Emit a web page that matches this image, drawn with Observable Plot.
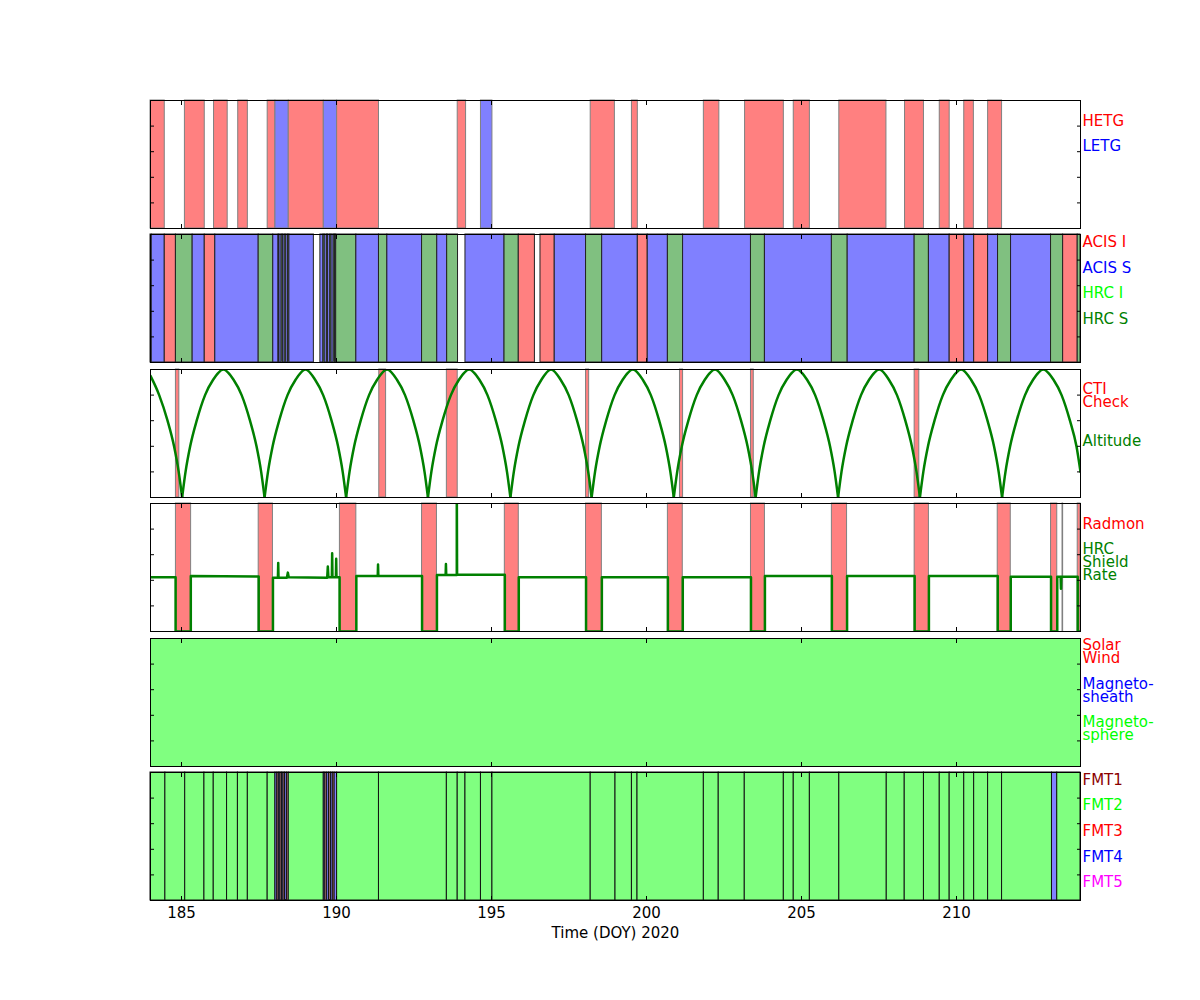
<!DOCTYPE html>
<html><head><meta charset="utf-8">
<script src="https://cdn.jsdelivr.net/npm/d3@7"></script>
<script src="https://cdn.jsdelivr.net/npm/@observablehq/plot@0.6"></script>
<style>
body{margin:0;background:#fff;}
#chart{position:relative;width:1200px;height:1000px;background:#fff;}
#chart svg{position:absolute;left:0;}
</style></head><body><div id="chart"></div>
<script>
// ---------- data (DOY 2020) ----------
const xTicks = [185, 190, 195, 200, 205, 210];
const yTicks = [1, 2, 3, 4];

// Panel 1: gratings [start, end, type]
const gratingSpans = [
  [184.00,184.46,"HETG"],[185.11,185.75,"HETG"],[186.05,186.49,"HETG"],[186.83,187.14,"HETG"],
  [187.78,188.03,"HETG"],[188.03,188.46,"LETG"],[188.46,189.59,"HETG"],[189.59,190.02,"LETG"],
  [190.02,191.37,"HETG"],[193.91,194.18,"HETG"],[194.66,195.03,"LETG"],[198.20,198.98,"HETG"],
  [199.53,199.72,"HETG"],[201.85,202.35,"HETG"],[203.18,204.43,"HETG"],[204.75,205.27,"HETG"],
  [206.22,207.74,"HETG"],[208.34,208.95,"HETG"],[209.46,209.78,"HETG"],[210.25,210.56,"HETG"],
  [211.02,211.47,"HETG"]
];
const gratingLabels = [["HETG",4.18,"red"],["LETG",3.2,"blue"]];

// Panel 2: instruments [start, end, type]
const instrumentSpans = [
  [184.00,184.04,"HRC S"],[184.04,184.46,"ACIS S"],[184.46,184.82,"ACIS I"],[184.82,185.36,"HRC S"],
  [185.36,185.75,"ACIS S"],[185.75,186.09,"ACIS I"],[186.09,187.49,"ACIS S"],[187.49,187.96,"HRC S"],
  [187.96,188.13,"ACIS S"],[188.13,188.16,"HRC S"],[188.16,188.23,"ACIS S"],[188.23,188.27,"HRC S"],
  [188.27,188.33,"ACIS S"],[188.33,188.38,"HRC S"],[188.38,188.44,"ACIS S"],[188.44,188.48,"HRC S"],
  [188.48,189.27,"ACIS S"],[189.48,189.58,"ACIS S"],[189.58,189.62,"HRC S"],[189.62,189.69,"ACIS S"],
  [189.69,189.73,"HRC S"],[189.73,189.80,"ACIS S"],[189.80,189.84,"HRC S"],[189.84,189.91,"ACIS S"],
  [189.91,189.95,"HRC S"],[189.95,189.99,"ACIS S"],[189.99,190.64,"HRC S"],[190.64,191.37,"ACIS S"],
  [191.37,191.64,"HRC S"],[191.64,192.76,"ACIS S"],[192.76,193.25,"HRC S"],[193.25,193.57,"ACIS S"],
  [193.57,193.92,"HRC S"],[194.16,195.42,"ACIS S"],[195.42,195.88,"HRC S"],[195.88,196.40,"ACIS I"],
  [196.58,197.04,"ACIS I"],[197.04,198.05,"ACIS S"],[198.05,198.57,"HRC S"],[198.57,199.72,"ACIS S"],
  [199.72,200.04,"ACIS I"],[200.04,200.69,"ACIS S"],[200.69,201.18,"HRC S"],[201.18,203.37,"ACIS S"],
  [203.37,203.82,"HRC S"],[203.82,205.98,"ACIS S"],[205.98,206.49,"HRC S"],[206.49,208.65,"ACIS S"],
  [208.65,209.11,"HRC S"],[209.11,209.78,"ACIS S"],[209.78,210.25,"ACIS I"],[210.25,210.57,"ACIS S"],
  [210.57,211.02,"ACIS I"],[211.02,211.34,"ACIS S"],[211.34,211.76,"HRC S"],[211.76,213.05,"ACIS S"],
  [213.05,213.44,"HRC S"],[213.44,213.91,"ACIS I"],[213.91,214.00,"HRC S"]
];
const instrumentLabels = [["ACIS I",4.69,"red"],["ACIS S",3.67,"blue"],["HRC I",2.70,"lime"],["HRC S",1.68,"green"]];

// Panel 3: CTI checks [start, end] and altitude arcs [doy, value, arc]
const ctiSpans = [
  [184.82,184.93],[191.38,191.60],[193.56,193.91],[198.05,198.15],[201.08,201.18],[203.37,203.46],[208.65,208.80]
];
const altitudePoints = [
  [184.00,4.75,0],[184.28,4,0],[184.55,3,0],[184.76,2,0],[184.91,1,0],[185.02,0,0],
  [185.02,0,1],[185.13,1,1],[185.28,2,1],[185.49,3,1],[185.76,4,1],[186.02,4.6,1],[186.35,5,1],[186.68,4.6,1],[186.94,4,1],[187.21,3,1],[187.42,2,1],[187.57,1,1],[187.68,0,1],
  [187.68,0,2],[187.79,1,2],[187.94,2,2],[188.15,3,2],[188.42,4,2],[188.68,4.6,2],[189.00,5,2],[189.31,4.6,2],[189.57,4,2],[189.84,3,2],[190.05,2,2],[190.20,1,2],[190.31,0,2],
  [190.31,0,3],[190.42,1,3],[190.57,2,3],[190.78,3,3],[191.05,4,3],[191.31,4.6,3],[191.63,5,3],[191.95,4.6,3],[192.21,4,3],[192.48,3,3],[192.69,2,3],[192.84,1,3],[192.95,0,3],
  [192.95,0,4],[193.06,1,4],[193.21,2,4],[193.42,3,4],[193.69,4,4],[193.95,4.6,4],[194.28,5,4],[194.61,4.6,4],[194.87,4,4],[195.14,3,4],[195.35,2,4],[195.50,1,4],[195.61,0,4],
  [195.61,0,5],[195.72,1,5],[195.87,2,5],[196.08,3,5],[196.35,4,5],[196.61,4.6,5],[196.92,5,5],[197.23,4.6,5],[197.49,4,5],[197.76,3,5],[197.97,2,5],[198.12,1,5],[198.23,0,5],
  [198.23,0,6],[198.34,1,6],[198.49,2,6],[198.70,3,6],[198.97,4,6],[199.23,4.6,6],[199.56,5,6],[199.88,4.6,6],[200.14,4,6],[200.41,3,6],[200.62,2,6],[200.77,1,6],[200.88,0,6],
  [200.88,0,7],[200.99,1,7],[201.14,2,7],[201.35,3,7],[201.62,4,7],[201.88,4.6,7],[202.21,5,7],[202.52,4.6,7],[202.78,4,7],[203.05,3,7],[203.26,2,7],[203.41,1,7],[203.52,0,7],
  [203.52,0,8],[203.63,1,8],[203.78,2,8],[203.99,3,8],[204.26,4,8],[204.52,4.6,8],[204.85,5,8],[205.18,4.6,8],[205.44,4,8],[205.71,3,8],[205.92,2,8],[206.07,1,8],[206.18,0,8],
  [206.18,0,9],[206.29,1,9],[206.44,2,9],[206.65,3,9],[206.92,4,9],[207.18,4.6,9],[207.51,5,9],[207.82,4.6,9],[208.08,4,9],[208.35,3,9],[208.56,2,9],[208.71,1,9],[208.82,0,9],
  [208.82,0,10],[208.93,1,10],[209.08,2,10],[209.29,3,10],[209.56,4,10],[209.82,4.6,10],[210.15,5,10],[210.47,4.6,10],[210.73,4,10],[211.00,3,10],[211.21,2,10],[211.36,1,10],[211.47,0,10],
  [211.47,0,11],[211.58,1,11],[211.73,2,11],[211.94,3,11],[212.21,4,11],[212.47,4.6,11],[212.80,5,11],[213.13,4.6,11],[213.39,4,11],[213.66,3,11],[213.87,2,11],[214.00,1,11]
];
const altitudeLabels = [["CTI\nCheck",3.96,"red"],["Altitude",2.19,"green"]];

// Panel 4: radmon disabled [start, end] and HRC shield rate [doy, value]
const radmonSpans = [
  [184.82,185.31],[187.49,187.95],[190.11,190.64],[192.76,193.24],[195.43,195.88],[198.05,198.56],
  [200.69,201.17],[203.37,203.82],[205.98,206.47],[208.65,209.11],[211.33,211.75],[213.05,213.25],
  [213.42,213.44],[213.91,214.00]
];
const shieldPoints = [
  [184.00,2.12],[184.81,2.12],[184.81,0],[185.30,0],[185.30,2.17],[187.49,2.15],[187.49,0],[187.95,0],
  [187.95,2.10],[188.11,2.10],[188.12,2.68],[188.13,2.10],[188.40,2.10],[188.43,2.30],[188.46,2.12],
  [189.70,2.10],[189.72,2.54],[189.74,2.12],[189.85,2.12],[189.86,3.06],[189.87,2.12],[189.98,2.12],
  [189.99,2.84],[190.00,2.12],[190.10,2.12],[190.10,0],[190.64,0],[190.64,2.17],[191.33,2.17],
  [191.34,2.62],[191.35,2.17],[192.76,2.17],[192.76,0],[193.24,0],[193.24,2.21],[193.52,2.21],
  [193.53,2.64],[193.54,2.21],[193.88,2.21],[193.88,6],[193.89,2.22],[195.43,2.22],[195.43,0],
  [195.88,0],[195.88,2.12],[198.05,2.12],[198.05,0],[198.56,0],[198.56,2.12],[200.69,2.12],
  [200.69,0],[201.17,0],[201.17,2.12],[203.37,2.12],[203.37,0],[203.82,0],[203.82,2.17],
  [205.98,2.17],[205.98,0],[206.47,0],[206.47,2.17],[208.65,2.17],[208.65,0],[209.11,0],
  [209.11,2.17],[211.33,2.17],[211.33,0],[211.75,0],[211.75,2.14],[213.05,2.14],[213.05,0],
  [213.25,0],[213.25,2.14],[213.36,2.14],[213.37,1.67],[213.38,2.14],[213.91,2.14],[213.91,0],[214.00,0]
];
const radmonLabels = [["Radmon",4.18,"red"],["HRC\nShield\nRate",2.70,"green"]];

// Panel 5: plasma region [start, end, type]
const regionSpans = [[184.00,214.00,"Magnetosphere"]];
const regionLabels = [["Solar\nWind",4.47,"red"],["Magneto-\nsheath",2.95,"blue"],["Magneto-\nsphere",1.46,"lime"]];

// Panel 6: telemetry format [start, end, type]
const formatSpans = [
  [184.00,184.48,"FMT2"],[184.48,185.12,"FMT2"],[185.12,185.74,"FMT2"],[185.74,186.04,"FMT2"],
  [186.04,186.47,"FMT2"],[186.47,186.82,"FMT2"],[186.82,187.14,"FMT2"],[187.14,187.78,"FMT2"],
  [187.78,188.03,"FMT2"],[188.03,188.09,"FMT4"],[188.09,188.14,"FMT1"],[188.14,188.19,"FMT4"],
  [188.19,188.24,"FMT1"],[188.24,188.29,"FMT4"],[188.29,188.34,"FMT1"],[188.34,188.40,"FMT4"],
  [188.40,188.46,"FMT1"],[188.46,189.59,"FMT2"],[189.59,189.64,"FMT4"],[189.64,189.70,"FMT1"],
  [189.70,189.76,"FMT4"],[189.76,189.82,"FMT1"],[189.82,189.88,"FMT4"],[189.88,189.94,"FMT1"],
  [189.94,190.02,"FMT4"],[190.02,191.37,"FMT2"],[191.37,193.56,"FMT2"],[193.56,193.91,"FMT2"],
  [193.91,194.16,"FMT2"],[194.16,194.66,"FMT2"],[194.66,195.03,"FMT2"],[195.03,198.20,"FMT2"],
  [198.20,199.00,"FMT2"],[199.00,199.53,"FMT2"],[199.53,199.71,"FMT2"],[199.71,201.85,"FMT2"],
  [201.85,202.33,"FMT2"],[202.33,203.17,"FMT2"],[203.17,204.43,"FMT2"],[204.43,204.75,"FMT2"],
  [204.75,205.27,"FMT2"],[205.27,206.22,"FMT2"],[206.22,207.75,"FMT2"],[207.75,208.33,"FMT2"],
  [208.33,208.95,"FMT2"],[208.95,209.46,"FMT2"],[209.46,209.78,"FMT2"],[209.78,210.25,"FMT2"],
  [210.25,210.57,"FMT2"],[210.57,211.02,"FMT2"],[211.02,211.47,"FMT2"],[211.47,213.08,"FMT2"],
  [213.08,213.25,"FMT4"],[213.25,214.00,"FMT2"]
];
const formatLabels = [["FMT1",4.69,"#8b0000"],["FMT2",3.71,"lime"],["FMT3",2.70,"red"],["FMT4",1.68,"blue"],["FMT5",0.70,"magenta"]];

// fills (alpha 0.5 over white)
const fillOf = {
  "HETG":"#ff8080","LETG":"#8080ff",
  "ACIS I":"#ff8080","ACIS S":"#8080ff","HRC I":"#80ff80","HRC S":"#80c080",
  "Magnetosphere":"#80ff80",
  "FMT1":"#c08080","FMT2":"#80ff80","FMT3":"#ff8080","FMT4":"#8080ff","FMT5":"#ff80ff"
};

// ---------- drawing ----------
const chart = document.getElementById("chart");
const FONT = "'DejaVu Sans', sans-serif";

function panel(top, marks, labels, bottom) {
  const mt = 10, mb = bottom ? 60 : 10;
  const noText = () => "";
  const svg = Plot.plot({
    width: 1200, height: 128 + mt + mb,
    marginLeft: 150, marginRight: 120, marginTop: mt, marginBottom: mb,
    x: {domain: [184, 214]},
    y: {domain: [0, 5]},
    color: {type: "identity"},
    style: {fontFamily: FONT, fontSize: "15px", background: "transparent", overflow: "visible"},
    marks: [
      ...marks,
      Plot.frame({stroke: "black", strokeWidth: 1}),
      Plot.axisX(xTicks, {anchor: "bottom", tickSize: -4, tickFormat: noText, label: null}),
      Plot.axisX(xTicks, {anchor: "top", tickSize: -4, tickFormat: noText, label: null}),
      Plot.axisY(yTicks, {anchor: "left", tickSize: -4, tickFormat: noText, label: null}),
      Plot.axisY(yTicks, {anchor: "right", tickSize: -4, tickFormat: noText, label: null}),
      Plot.text(labels, {y: d => d[1], text: d => d[0], fill: d => d[2], frameAnchor: "right", textAnchor: "start", lineAnchor: "middle", lineHeight: 0.87, dx: 2}),
      ...(bottom ? [
        Plot.axisX(xTicks, {anchor: "bottom", tickSize: 0, tickPadding: 7, label: null, fill: "black"}),
        Plot.text(["Time (DOY) 2020"], {text: d => d, frameAnchor: "bottom", lineAnchor: "top", dy: 27, fill: "black"})
      ] : [])
    ]
  });
  svg.style.top = (top - mt) + "px";
  chart.append(svg);
}

const spanRect = (data, stroke, fillFn) => Plot.rect(data, {
  x1: d => d[0], x2: d => d[1], fill: fillFn, stroke, strokeWidth: 1
});

panel(100, [spanRect(gratingSpans, "#808080", d => fillOf[d[2]])], gratingLabels, false);
panel(234, [spanRect(instrumentSpans, "#222", d => fillOf[d[2]])], instrumentLabels, false);
panel(369, [
  spanRect(ctiSpans, "#808080", "#ff8080"),
  Plot.line(altitudePoints, {x: d => d[0], y: d => d[1], z: d => d[2], stroke: "green", strokeWidth: 2.5, curve: "monotone-x", clip: true})
], altitudeLabels, false);
panel(503, [
  spanRect(radmonSpans, "#808080", "#ff8080"),
  Plot.line(shieldPoints, {x: d => d[0], y: d => d[1], stroke: "green", strokeWidth: 2.5, clip: true})
], radmonLabels, false);
panel(638, [spanRect(regionSpans, "none", d => fillOf[d[2]])], regionLabels, false);
panel(772, [spanRect(formatSpans, "#111", d => fillOf[d[2]])], formatLabels, true);
</script></body></html>
